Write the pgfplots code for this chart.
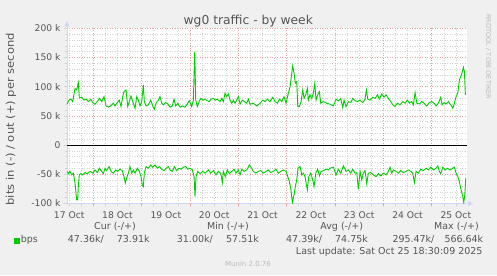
\documentclass[border=0pt]{standalone}
\usepackage{fontspec}
\setmainfont{DejaVu Sans}
\usepackage{graphicx}
\usepackage{pgfplots}
\usepackage{pgfplotstable}
\pgfplotsset{compat=1.18}
\usetikzlibrary{arrows.meta,calc,backgrounds}
\definecolor{munintext}{HTML}{555555}
\definecolor{muningreen}{HTML}{00CC00}
\definecolor{mgrid}{HTML}{E6A0A0}
\definecolor{mingrid}{HTML}{D2D2D2}
\definecolor{axisblue}{HTML}{CFD6F8}
\definecolor{bgc}{HTML}{F0F0F0}
\definecolor{wmark}{HTML}{BBBBBB}
% out (+) series: pos = horizontal position (1 unit = 1/48.33 day, 45 = 17 Oct 00:00), v in kbit/s
\pgfplotstableread{
pos v
67 70.5
69 77
71 79
72.7 74.5
75 97
76.7 94.5
78.3 107
79.3 81
81.7 82
84 77
86 79
88.3 74.5
90.7 78.6
92.7 72.8
95 70
97.3 74.5
99.3 80
101.7 74.5
104 83
106 67
108.3 65
110.7 67
113.3 71.7
115 67
117.3 72.8
119.3 77
121 66
122.7 83
124 91.6
126 94.5
127.7 66
129.3 74.5
131 84
132.7 74.5
135 63
136.7 83
138.3 77
140 67
141.7 74.5
143.3 103
144.3 74.5
146 67
148.3 69
150.7 77
152.7 67
154.3 61.5
156 71.7
158.3 77
160 83
161.7 71.7
163.3 69
165.7 72.8
167.7 70.5
170 65
172.3 67
174 78.6
175.7 67
177.7 71.7
180 65
182.3 67
185 65
187.3 70.5
189.3 76
191.7 66
193.3 77
194.7 160
195.7 77
197.3 66
199 74.5
200.7 80
203.3 77
205 78.6
207.3 76
209.3 74.5
211 78.6
213.3 80
215.3 77
217.3 78.6
220 74.5
221.7 80
223.3 74.5
225 89
226.7 83
228.3 87.7
230 77
231.7 71.7
233.3 77
235 71.7
236.7 77
238.3 83
240 70.5
242.3 77
244.3 74.5
246.7 71.7
248.3 78.6
250 70
253.3 71.7
256.7 67
260 71.7
262.7 77
265 74.5
267.3 78.6
270 74.5
272.7 82
275 74.5
277.3 71.7
279.3 78.6
281.7 74.5
284 83
286 71.7
288.3 89
290 100
291.7 123
292.7 135.6
294 123
295.3 106
296.7 108.7
297.7 66
299.3 66
301 74.5
302.7 94.5
304 80
305.7 86
307.3 97.4
308.3 77
310 86
311.7 80
313.3 89
314.7 106
316 77
317.7 86
319.3 91.6
320.7 71.7
323.3 74.5
326.7 71.7
330 70
333.3 67
336 78.6
338.3 75.7
340.7 80
342.7 64
344 77
346 66
348.3 74.5
350.7 72.8
352.7 80
355 76
357.3 74.5
360 77
362.7 72.8
365 78.6
366.3 94.5
367.7 78.6
370 77
372.7 82
375 80
377.3 86
379.3 78.6
381.7 87.7
384 82
386 86
388.3 80
390.7 74.5
392.7 69
395 66
397.3 71.7
400 69
402.7 74.5
405 71.7
407.3 77
409.3 71.7
411.7 74.5
413.3 69
415 90
416.7 71.7
419.3 70.5
421.7 74.5
424 71.7
426.7 67
429.3 72.8
431.7 74.5
434 71.7
436 67
438.3 71.7
440.7 82
442 69
444 72.8
446 70.5
448.3 74.5
450.7 69
452.7 63
454.3 71.7
456 83
457.7 89
459.3 111.6
461.3 120
463.3 133
464.3 126
465.3 86
}\outdata
% in (-) series
\pgfplotstableread{
pos v
67 -45
68.3 -49
70 -45
71.7 -51
73.3 -48
75 -65
76 -82.5
76.7 -94
77.7 -94
78.3 -71
79.3 -51
80.7 -49
82.7 -51
85 -47
87.3 -49
90 -45
92.7 -48
95 -42.5
97.3 -47
99.3 -39.6
101.7 -45
103.3 -49
105 -39.6
106.7 -43.6
109 -36.8
111 -45
113.3 -48
115.7 -42.5
117.7 -45
120 -40.8
122.3 -44
124 -54
125.3 -65
126.7 -56.7
128.3 -48
130 -36.8
131.7 -48
133.3 -42.5
135 -48
137.3 -39.6
139.3 -45
141 -54
142.3 -68
143.3 -71
144.3 -48
146 -36.8
148.3 -39.6
150.7 -34
152.7 -37.8
155 -34
157.3 -39.6
159.3 -36.8
161.7 -41.3
164 -43.6
166 -39.6
168.3 -36.8
170 -42.5
172.3 -45
174.3 -36.8
176.7 -43.6
179 -39.6
181 -41.3
183.3 -37.8
185.7 -36.8
187.7 -41.3
190 -39.6
192.3 -42.5
194 -54
195 -88
196 -54
197.7 -45
200 -49
202.7 -45
205 -48
208.3 -42.5
210.7 -48
213.3 -43.6
216 -51
218.3 -45
220.7 -48
222.3 -64
223.3 -45
225.3 -54
227.3 -42.5
229.3 -49
231.7 -45
234 -41.3
236 -48
238.3 -42.5
240 -51
241.7 -41.3
244 -45
246.7 -42.5
249.3 -34
251 -37.8
253.3 -45
256 -48
258.3 -45
260.7 -43.6
263.3 -48
266 -45
268.3 -42.5
270.7 -47
273.3 -45
276 -41.3
278.3 -48
280.7 -45
283.3 -42.5
286 -45
287.7 -54
289.3 -62.5
290.7 -74
292.3 -98.5
294 -85
295.3 -71
296.7 -59.6
298 -39.6
300 -36.8
301.7 -51
303.3 -48
305 -54
307.3 -76.7
308.7 -54
310.7 -48
312.7 -59.6
314 -71
315.7 -48
317.7 -41.3
319.3 -52.7
321 -45
323.3 -43.6
326 -41.3
328.3 -42.5
330 -39.6
333.3 -37.8
336 -51
338.3 -41.3
340.7 -48
343.3 -35.6
346 -45
348.3 -42.5
350.7 -48
352.7 -41.3
355 -48
356.7 -47
358.3 -75.6
360 -45
361.7 -59.6
363.3 -48
365 -43.6
366.7 -66.4
368.3 -48
370.7 -47
373.3 -51
376 -54
378.3 -49
380.7 -52.7
383.3 -48
386 -51
388.3 -45
390 -37.8
391.7 -48
393.3 -42.5
396 -45
398.3 -48
400.7 -43.6
403.3 -47
406 -45
408.3 -42.5
410.7 -45
412.7 -48
414.3 -64
416 -45
418.3 -48
420.7 -41.3
423.3 -43.6
426 -39.6
428.3 -42.5
430.7 -37.8
433.3 -42.5
436 -39.6
437.7 -35.6
439.3 -45
440.7 -49
442.7 -37.8
445 -42.5
447.3 -39.6
450 -42.5
452.7 -39.6
454.3 -37.8
456 -48
457.7 -54
459.3 -62.5
461 -76.7
462.7 -88
463.7 -98.5
464.7 -85
465.7 -56.7
}\indata
\begin{document}
\begin{tikzpicture}[x=1bp,y=1bp]
\begin{axis}[
  scale only axis, width=400bp, height=175.2bp,
  xmin=0.455, xmax=8.73, ymin=-100, ymax=200,
  axis background/.style={fill=white},
  axis lines=left,
  axis line style={axisblue, line width=0.8bp},
  x axis line style={-{Triangle[width=5bp,length=5bp]}, shorten >=-6bp},
  y axis line style={-{Triangle[width=5bp,length=5bp]}, shorten >=-7bp},
  xtick={0.5,1.5,...,8.5},
  xticklabels={17 Oct,18 Oct,19 Oct,20 Oct,21 Oct,22 Oct,23 Oct,24 Oct,25 Oct},
  minor xtick={0.5,0.75,1.25,1.5,1.75,2.25,2.5,2.75,3.25,3.5,3.75,4.25,4.5,4.75,5.25,5.5,5.75,6.25,6.5,6.75,7.25,7.5,7.75,8.25,8.5},
  extra x ticks={1,2,3,4,5,6,7,8},
  extra x tick labels={},
  extra x tick style={xmajorgrids=true, tick style={mgrid}},
  ytick={-100,-50,0,50,100,150,200},
  yticklabels={-100 k,-50 k,0,50 k,100 k,150 k,200 k},
  minor ytick={-90,-80,-70,-60,-40,-30,-20,-10,10,20,30,40,60,70,80,90,110,120,130,140,160,170,180,190},
  xmajorgrids=false, xminorgrids=true, ymajorgrids=true, yminorgrids=true,
  major grid style={mgrid, dash pattern=on 1bp off 1.5bp, line width=0.6bp},
  minor grid style={mingrid, dash pattern=on 1bp off 1.5bp, line width=0.6bp},
  tick align=outside,
  major tick length=2.5bp, minor tick length=2bp,
  tick style={mingrid, line width=0.6bp},
  ticklabel style={font=\fontsize{9.2bp}{11bp}\selectfont, text=munintext},
  yticklabel style={xshift=-0.5bp},
  xticklabel style={yshift=-2bp},
  clip=true,
]
\addplot[black, line width=0.9bp, forget plot] coordinates {(0.455,0) (8.73,0)};
\addplot[muningreen, line width=0.9bp] table[x expr={(\thisrow{pos}-45)/48.33}, y=v] {\outdata};
\addplot[muningreen, line width=0.9bp] table[x expr={(\thisrow{pos}-45)/48.33}, y=v] {\indata};
\coordinate (sw) at (rel axis cs:0,0);
\end{axis}
\coordinate (O) at ($(sw)+(-67,-71.5)$);
\begin{scope}[shift={(O)}]
\begin{scope}[on background layer]
\fill[bgc] (0,0) rectangle (497,275);
\end{scope}
% title
\node[anchor=base, inner sep=0, text=munintext, font=\fontsize{12.3bp}{14bp}\selectfont] at (248.3,251) {wg0 traffic - by week};
% y label
\node[rotate=90, inner sep=0, text=munintext, font=\fontsize{10.5bp}{12bp}\selectfont] at (11,155.8) {\scalebox{1.1}[1]{bits in (-) / out (+) per second}};
% watermark
\node[rotate=-90, anchor=west, inner sep=0, text=wmark, font=\fontsize{6.6bp}{8bp}\selectfont] at (488.3,261) {RRDTOOL / TOBI OETIKER};
% legend
\begin{scope}[every node/.style={inner sep=0, text=munintext, font=\fontsize{9.5bp}{11bp}\selectfont}]
\node[anchor=base] at (115,46) {Cur (-/+)};
\node[anchor=base] at (228,46) {Min (-/+)};
\node[anchor=base] at (341.7,46) {Avg (-/+)};
\node[anchor=base east] at (479,46) {Max (-/+)};
\fill[muningreen] (14,31.5) rectangle (20,37.5);
\node[anchor=base west] at (20.7,32.5) {bps};
\node[anchor=base west] at (67.7,32.5) {47.36k/};
\node[anchor=base west] at (116.7,32.5) {73.91k};
\node[anchor=base west] at (176.7,32.5) {31.00k/};
\node[anchor=base west] at (226,32.5) {57.51k};
\node[anchor=base west] at (286,32.5) {47.39k/};
\node[anchor=base west] at (335,32.5) {74.75k};
\node[anchor=base west] at (392.3,32.5) {295.47k/};
\node[anchor=base west] at (444.3,32.5) {566.64k};
\node[anchor=base east] at (482.7,20.5) {Last update: Sat Oct 25 18:30:09 2025};
\end{scope}
\node[anchor=base, inner sep=0, text=wmark, font=\fontsize{7bp}{8bp}\selectfont] at (248,8.5) {Munin 2.0.76};
\end{scope}
\pgfresetboundingbox
\path[use as bounding box] (O) rectangle ($(O)+(497,275)$);
\end{tikzpicture}
\end{document}
